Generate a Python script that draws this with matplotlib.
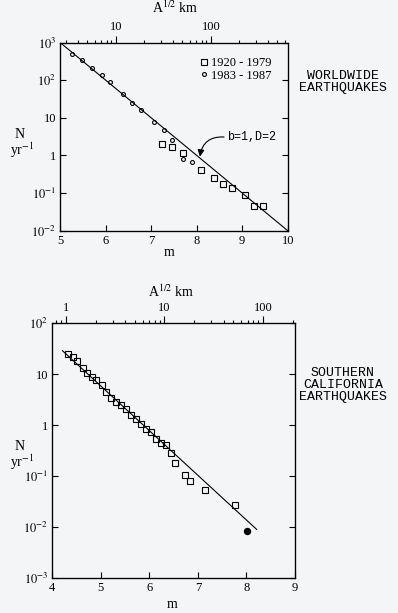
import numpy as np
import matplotlib
matplotlib.use("Agg")
import matplotlib.pyplot as plt
from matplotlib.ticker import LogLocator, NullFormatter, FixedLocator, FixedFormatter

plt.rcParams["font.family"] = "Liberation Serif"
plt.rcParams["mathtext.fontset"] = "stix"

BG = "#f4f5f7"

# ---- worldwide data
ww_old_m = [7.24, 7.46, 7.70, 8.10, 8.39, 8.58, 8.78, 9.05, 9.25, 9.45]
ww_old_n = [2.08, 1.63, 1.15, 0.40, 0.25, 0.173, 0.139, 0.090, 0.044, 0.044]
ww_new_m = [5.25, 5.47, 5.70, 5.91, 6.09, 6.37, 6.58, 6.78, 7.07, 7.27, 7.46, 7.69, 7.90]
ww_new_n = [500, 354, 217, 136, 90, 44, 24.5, 16, 7.8, 4.8, 2.6, 0.82, 0.68]
ww_fit_m = [5.0, 10.0]
ww_fit_n = [1000, 0.01]

# ---- southern california data
sc_m = [4.32, 4.42, 4.51, 4.63, 4.72, 4.82, 4.91, 5.02, 5.11, 5.21, 5.31, 5.41, 5.51,
        5.62, 5.72, 5.83, 5.93, 6.03, 6.13, 6.23, 6.34, 6.44, 6.53, 6.73, 6.83, 7.15, 7.76]
sc_n = [25.4, 21.9, 18.5, 13.3, 10.8, 8.7, 7.7, 6.2, 4.5, 3.5, 2.9, 2.5, 2.1,
        1.57, 1.33, 1.06, 0.835, 0.74, 0.55, 0.45, 0.42, 0.29, 0.185, 0.108, 0.082, 0.055, 0.0274]
sc_big_m = [8.01]
sc_big_n = [0.0086]
sc_fit_m = [4.21, 8.21]
sc_fit_n = [29, 0.0091]

top_ticks_ww = [10, 100]
top_ticks_sc = [1, 10, 100]
yt_ww = [1e3, 1e2, 10, 1, 0.1, 0.01]
yl_ww = ["$10^3$", "$10^2$", "10", "1", "$10^{-1}$", "$10^{-2}$"]
yt_sc = [1e2, 10, 1, 0.1, 0.01, 1e-3]
yl_sc = ["$10^2$", "10", "1", "$10^{-1}$", "$10^{-2}$", "$10^{-3}$"]


def style(ax, xlim, ylim, yt, yl, m0, a, tticks):
    ax.set_facecolor(BG)
    ax.set_yscale("log")
    ax.set_xlim(*xlim)
    ax.set_ylim(*ylim)
    ax.yaxis.set_major_locator(FixedLocator(yt))
    ax.yaxis.set_major_formatter(FixedFormatter(yl))
    ax.yaxis.set_minor_locator(FixedLocator([]))
    ax.tick_params(which="major", direction="in", length=4.3, width=0.8,
                   right=True, labelsize=9, pad=3)
    for s in ax.spines.values():
        s.set_linewidth(0.9)
    # A^1/2 km axis on top
    tw = ax.twiny()
    tw.set_xscale("log")
    tw.set_xlim(10 ** ((xlim[0] - m0) / a), 10 ** ((xlim[1] - m0) / a))
    tw.xaxis.set_major_locator(FixedLocator(tticks))
    tw.xaxis.set_major_formatter(FixedFormatter([str(t) for t in tticks]))
    tw.xaxis.set_minor_locator(LogLocator(base=10, subs=np.arange(2, 10)))
    tw.xaxis.set_minor_formatter(NullFormatter())
    tw.tick_params(which="major", direction="out", length=4.7, width=0.8, labelsize=9, pad=2)
    tw.tick_params(which="minor", direction="out", length=2.4, width=0.8)
    return tw


fig = plt.figure(figsize=(3.98, 6.13), dpi=100)
fig.patch.set_facecolor(BG)

# ---------------- top panel
ax1 = fig.add_axes([0.1515, 0.6237, 0.5714, 0.3067])
ax1.plot(ww_fit_m, ww_fit_n, color="black", lw=0.8)
ax1.plot(ww_old_m, ww_old_n, "s", ms=4.5, mfc="none", mec="black", mew=0.8,
         label="1920 - 1979")
ax1.plot(ww_new_m, ww_new_n, "o", ms=2.8, mfc="none", mec="black", mew=0.8,
         label="1983 - 1987")
style(ax1, (5, 10), (0.01, 1000), yt_ww, yl_ww, 4.13, 2.09, top_ticks_ww)
ax1.set_xticks([5, 6, 7, 8, 9, 10])
ax1.legend(loc="upper left", bbox_to_anchor=(0.575, 0.97), frameon=False,
           fontsize=9, handlelength=0.7, handletextpad=0.2, labelspacing=0.05,
           borderpad=0.2)
ax1.text(8.66, 3.1, "b=1,D=2", fontsize=8.5, family="Liberation Mono",
         va="center", ha="left")
ax1.annotate("", xy=(8.07, 0.93), xytext=(8.6, 3.1),
             arrowprops=dict(arrowstyle="-|>,head_length=0.4,head_width=0.2",
                             color="black", lw=0.8, shrinkA=0, shrinkB=0,
                             connectionstyle="arc3,rad=0.45"))

fig.text(20 / 398, 1 - 135 / 613, "N", fontsize=10, ha="center", va="center")
fig.text(22 / 398, 1 - 150 / 613, "yr$^{-1}$", fontsize=10, ha="center", va="center")
fig.text(169 / 398, 1 - 252 / 613, "m", fontsize=10, ha="center", va="center")
fig.text(175 / 398, 1 - 8 / 613, "A$^{1/2}$ km", fontsize=10, ha="center", va="center")
fig.text(343 / 398, 1 - 82 / 613, "WORLDWIDE\nEARTHQUAKES", fontsize=9.5,
         family="Liberation Mono", ha="center", va="center", linespacing=1.0)

# ---------------- bottom panel
ax2 = fig.add_axes([0.1314, 0.0566, 0.6098, 0.416])
ax2.plot(sc_fit_m, sc_fit_n, color="black", lw=0.8)
ax2.plot(sc_m, sc_n, "s", ms=4.2, mfc="none", mec="black", mew=0.8)
ax2.plot(sc_big_m, sc_big_n, "o", ms=4.3, color="black")
style(ax2, (4, 9), (1e-3, 1e2), yt_sc, yl_sc, 4.28, 2.03, top_ticks_sc)
ax2.set_xticks([4, 5, 6, 7, 8, 9])

fig.text(20 / 398, 1 - 446 / 613, "N", fontsize=10, ha="center", va="center")
fig.text(22 / 398, 1 - 462 / 613, "yr$^{-1}$", fontsize=10, ha="center", va="center")
fig.text(172 / 398, 1 - 604 / 613, "m", fontsize=10, ha="center", va="center")
fig.text(171 / 398, 1 - 292 / 613, "A$^{1/2}$ km", fontsize=10, ha="center", va="center")
fig.text(343 / 398, 1 - 385 / 613, "SOUTHERN\nCALIFORNIA\nEARTHQUAKES", fontsize=9.5,
         family="Liberation Mono", ha="center", va="center", linespacing=1.0)

fig.savefig("out.png", dpi=100, facecolor=BG)
